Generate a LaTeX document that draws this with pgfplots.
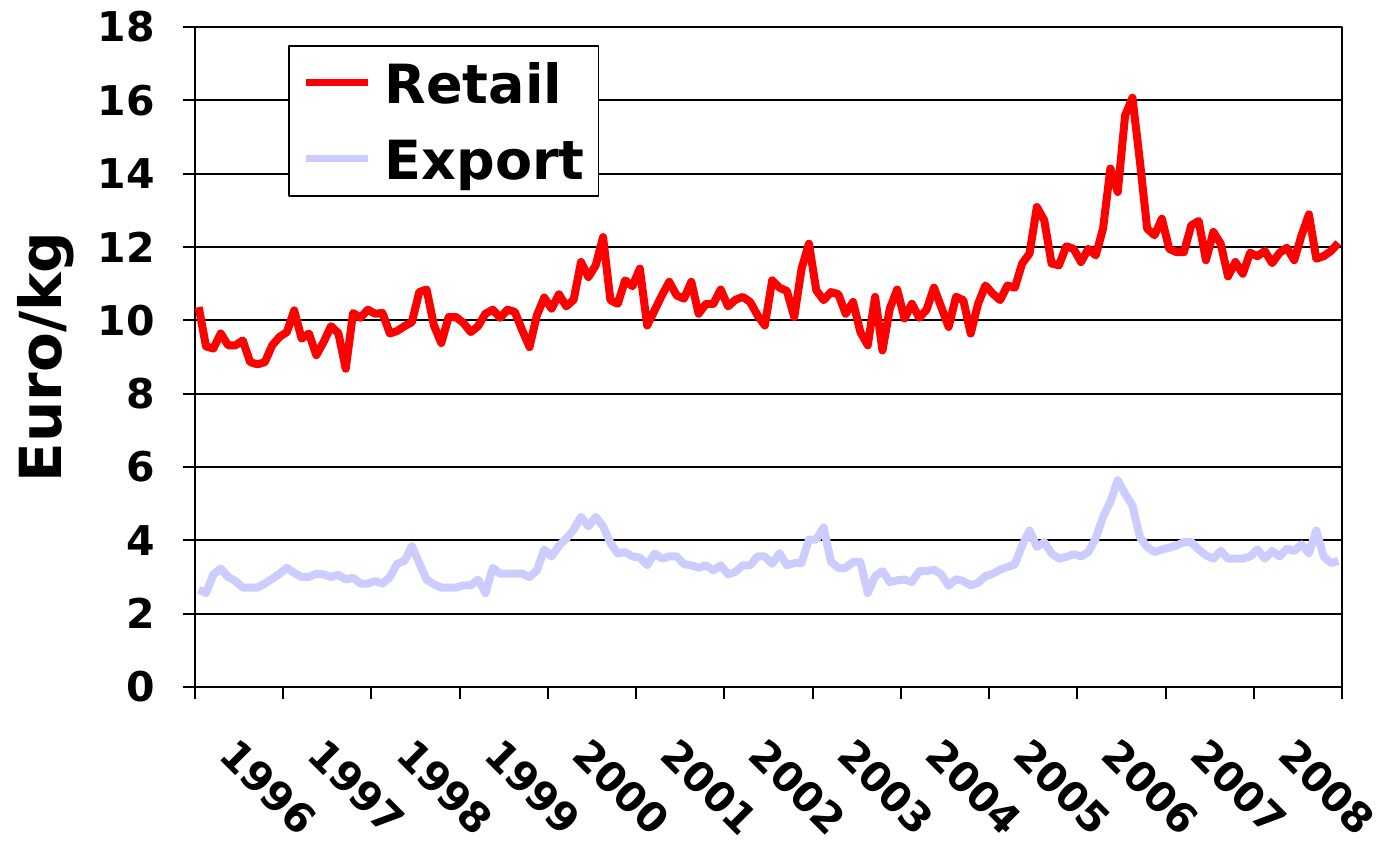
\documentclass[border=0pt]{standalone}
\usepackage{pgfplots}
\usepackage{pgfplotstable}
\pgfplotsset{compat=1.18}
\usepackage{fontspec}
\setmainfont{DejaVu Sans}
\definecolor{retailc}{RGB}{255,0,0}
\definecolor{exportc}{RGB}{204,204,255}

\pgfplotstableread{
v
10.36
9.29
9.23
9.64
9.32
9.32
9.45
8.86
8.80
8.86
9.32
9.55
9.68
10.27
9.50
9.64
9.05
9.41
9.84
9.65
8.68
10.20
10.07
10.29
10.18
10.20
9.64
9.71
9.84
9.95
10.77
10.84
9.86
9.38
10.09
10.09
9.93
9.68
9.84
10.18
10.29
10.07
10.29
10.23
9.73
9.27
10.14
10.62
10.32
10.71
10.38
10.56
11.59
11.18
11.50
12.27
10.55
10.45
11.09
10.93
11.41
9.86
10.27
10.68
11.05
10.68
10.59
11.05
10.18
10.45
10.45
10.84
10.38
10.56
10.64
10.50
10.14
9.86
11.09
10.89
10.80
10.09
11.41
12.09
10.82
10.55
10.77
10.71
10.18
10.50
9.68
9.32
10.64
9.18
10.32
10.84
10.05
10.45
10.07
10.29
10.89
10.36
9.82
10.64
10.55
9.64
10.45
10.95
10.73
10.55
10.95
10.89
11.55
11.82
13.09
12.73
11.55
11.50
12.02
11.95
11.59
11.95
11.77
12.50
14.14
13.50
15.59
16.07
14.36
12.50
12.32
12.77
11.95
11.86
11.86
12.59
12.71
11.64
12.41
12.09
11.20
11.59
11.27
11.84
11.75
11.89
11.56
11.84
11.98
11.64
12.32
12.89
11.68
11.75
11.89
12.11
}\retail

\pgfplotstableread{
v
2.65
2.56
3.07
3.23
3.00
2.89
2.71
2.71
2.71
2.82
2.95
3.09
3.25
3.11
3.00
3.00
3.09
3.07
3.00
3.06
2.93
2.98
2.82
2.82
2.89
2.82
3.00
3.36
3.44
3.84
3.38
2.93
2.80
2.71
2.71
2.71
2.77
2.77
2.93
2.56
3.25
3.09
3.09
3.09
3.09
3.00
3.18
3.75
3.56
3.85
4.05
4.29
4.64
4.38
4.64
4.38
3.93
3.64
3.68
3.56
3.53
3.32
3.64
3.50
3.56
3.56
3.35
3.32
3.25
3.32
3.18
3.32
3.07
3.14
3.32
3.32
3.56
3.56
3.36
3.65
3.32
3.38
3.38
4.02
4.02
4.35
3.41
3.25
3.25
3.41
3.41
2.56
3.02
3.16
2.86
2.91
2.93
2.86
3.16
3.16
3.20
3.07
2.76
2.94
2.89
2.77
2.84
3.02
3.09
3.20
3.27
3.34
3.86
4.27
3.82
3.95
3.64
3.50
3.55
3.62
3.56
3.68
4.05
4.64
5.05
5.64
5.27
4.95
4.09
3.82
3.68
3.75
3.80
3.86
3.95
3.95
3.75
3.59
3.50
3.71
3.50
3.50
3.50
3.56
3.75
3.50
3.71
3.56
3.77
3.71
3.89
3.65
4.27
3.56
3.38
3.44
}\export

\begin{document}
\begin{tikzpicture}
\begin{axis}[
  at={(0,0)}, anchor=south west,
  scale only axis,
  width=573.5pt, height=330pt,
  xmin=0, xmax=156, ymin=0, ymax=18,
  ytick={0,2,...,18},
  xtick={0,12,...,156},
  xticklabels={},
  extra x ticks={6,18,...,150},
  extra x tick labels={1996,1997,1998,1999,2000,2001,2002,2003,2004,2005,2006,2007,2008},
  extra x tick style={major tick length=0pt, grid=none},
  xtick pos=bottom, ytick pos=left,
  tick align=outside,
  major tick length=6pt,
  tick style={black, line width=1pt},
  axis line style={black, line width=1pt},
  ymajorgrids,
  grid style={black, line width=1pt},
  /pgf/number format/assume math mode=true,
  tick label style={font=\fontsize{20.5}{24}\selectfont\bfseries},
  yticklabel style={anchor=east, inner sep=0pt, xshift=-14pt},
  xticklabel style={yshift=-24pt, rotate=-45, anchor=north west, inner sep=0pt},
  ylabel={Euro/kg},
  every axis y label/.style={at={(axis description cs:-0.1552,0.5)}, rotate=90, anchor=north, inner sep=0pt, font=\fontsize{29}{34}\selectfont\bfseries},
  legend style={at={(rel axis cs:0.0811,0.9727)}, anchor=north west,
    draw=black, line width=0.75pt, fill=white,
    inner xsep=7pt, inner ysep=8pt,
    row sep=17pt, column sep=6.5pt,
    font=\fontsize{27}{32}\selectfont\bfseries,
    nodes={inner sep=0pt, text height=21pt, text depth=0pt},
    cells={anchor=west}},
  legend image code/.code={\draw[#1, line width=3.5pt] (0pt,0pt) -- (31pt,0pt);},
  line join=round,
]
\addplot[retailc, line width=4pt, line join=round] table[x expr=\coordindex+0.5, y=v] {\retail};
\addlegendentry{Retail}
\addplot[exportc, line width=4pt, line join=round] table[x expr=\coordindex+0.5, y=v] {\export};
\addlegendentry{Export}
\end{axis}
\pgfresetboundingbox
\path[use as bounding box] (-97.5pt,-79pt) rectangle (596.5pt,343.5pt);
\end{tikzpicture}
\end{document}
